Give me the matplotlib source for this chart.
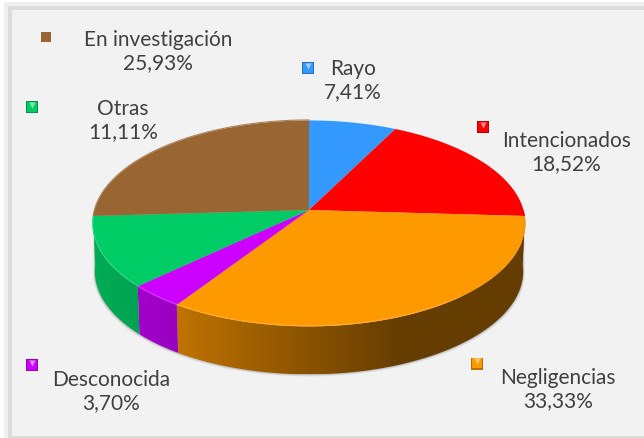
import numpy as np
import matplotlib
matplotlib.use('Agg')
import matplotlib.pyplot as plt
from matplotlib.patches import Rectangle, Polygon

# datos ------------------------------
causas = ['Rayo', 'Intencionados', 'Negligencias', 'Desconocida', 'Otras', 'En investigación']
valores = [7.41, 18.52, 33.33, 3.70, 11.11, 25.93]
colores = ['#3399FF', '#FF0000', '#FF9900', '#CC00FF', '#00CC66', '#996633']

# posicion de las etiquetas (px)
pos_texto = [(353, 80.5), (566.5, 152.5), (558, 389.5), (111, 391.5), (123, 120.5), (158, 51.5)]
pos_marca = [(308, 68), (483, 127), (477, 363.5), (32.5, 365), (32.5, 107), (46.5, 36.5)]

# geometria del disco en perspectiva
cx, cy = 309, 210
ax_x, ax_y, k = 214.5, 101.2, 0.13
prof = 48


def proyecta(ang, dy=0.0, esc=1.0):
    # ang en grados, en sentido horario desde arriba
    t = np.radians(ang)
    u, v = np.sin(t), np.cos(t)
    w = 1 + k * v
    return cx + esc * ax_x * u / w, cy + dy - ax_y * v / w


def sombra_lado(x):
    return np.interp(x, [92, 177, 320, 400, 530], [0.85, 0.75, 0.52, 0.40, 0.40])


def oscurece(color, f):
    return tuple(np.array(matplotlib.colors.to_rgb(color)) * f)


def aclara(color, f):
    c = np.array(matplotlib.colors.to_rgb(color))
    return tuple(c + (1 - c) * f)


fig = plt.figure(figsize=(6.44, 4.38), dpi=100, facecolor='white')
ax = fig.add_axes([0, 0, 1, 1])
ax.axis('off')

# marco
ax.add_patch(Rectangle((4, 2), 650, 440, fc='#EFEFEF', ec='none', zorder=0))
ax.add_patch(Rectangle((8, 6), 650, 440, fc='#DCDCDC', ec='none', zorder=0))
ax.add_patch(Rectangle((12, 10), 650, 425.5, fc='#F2F2F2', ec='none', zorder=0))

# sombra bajo el disco
todo = np.linspace(97, 263, 181)
for i, alfa in zip([4, 3, 2, 1], [0.05, 0.08, 0.12, 0.18]):
    xs, ys = proyecta(todo, dy=prof + i * 0.6, esc=0.99 + i * 0.002)
    xs = np.r_[xs, xs[-1], xs[0]]
    ys = np.r_[ys, cy, cy]
    ax.fill(xs, ys, color='#606060', alpha=alfa, lw=0, zorder=1)

# angulos de cada sector
fin = np.cumsum(valores) / np.sum(valores) * 360
ini = np.r_[0, fin[:-1]]

# lateral, degradado en x recortado con la forma del sector
for a0, a1, col in zip(ini, fin, colores):
    a0v, a1v = max(a0, 90), min(a1, 266)
    if a1v <= a0v:
        continue
    angs = np.linspace(a0v, a1v, 120)
    xt, yt = proyecta(angs)
    xb, yb = proyecta(angs, dy=prof, esc=0.99)
    forma = Polygon(np.c_[np.r_[xt, xb[::-1]], np.r_[yt, yb[::-1]]], closed=True, fc='none', ec='none',
                    transform=ax.transData)
    ax.add_patch(forma)
    x0, x1 = min(xt.min(), xb.min()), max(xt.max(), xb.max())
    y0, y1 = min(yt.min(), yb.min()), max(yt.max(), yb.max())
    xg = np.linspace(x0, x1, 256)
    grad = np.array([oscurece(col, f) for f in sombra_lado(xg)])[np.newaxis, :, :]
    im = ax.imshow(grad, extent=(x0, x1, y1, y0), aspect='auto', zorder=2, interpolation='bilinear')
    im.set_clip_path(forma)

# cara superior
for a0, a1, col in zip(ini, fin, colores):
    angs = np.linspace(a0, a1, 200)
    xs, ys = proyecta(angs)
    ax.fill(np.r_[cx, xs], np.r_[cy, ys], color=col, lw=0, zorder=3)
    # brillo del borde delantero
    if a1 > 140 and a0 < 270:
        fr = angs[angs >= 140]
        xr, yr = proyecta(fr, dy=-0.5)
        ax.plot(xr, yr, color=aclara(col, 0.2), lw=0.8, zorder=4)

# marcas de la leyenda
for (mx, my), col, nom in zip(pos_marca, colores, causas):
    if nom == 'En investigación':
        ax.scatter([mx], [my], marker='s', s=62, color=col, lw=0, zorder=6)
        continue
    ax.scatter([mx], [my], marker='s', s=82, color=oscurece(col, 0.72), lw=0, zorder=5)
    ax.scatter([mx], [my - 0.5], marker='s', s=50, color=col, lw=0, zorder=6)
    ax.scatter([mx], [my - 2.5], marker='v', s=20, color=aclara(col, 0.5), lw=0, zorder=7)

# etiquetas
for (tx, ty), nom, val in zip(pos_texto, causas, valores):
    txt = nom + '\n' + f'{val:.2f}'.replace('.', ',') + '%'
    ax.text(tx, ty, txt, ha='center', va='center', color='#404040', fontsize=15,
            family='Lato', linespacing=1.24, zorder=8)

ax.set_xlim(0, 644)
ax.set_ylim(438, 0)

fig.savefig('out.png', dpi=100, facecolor='white')
